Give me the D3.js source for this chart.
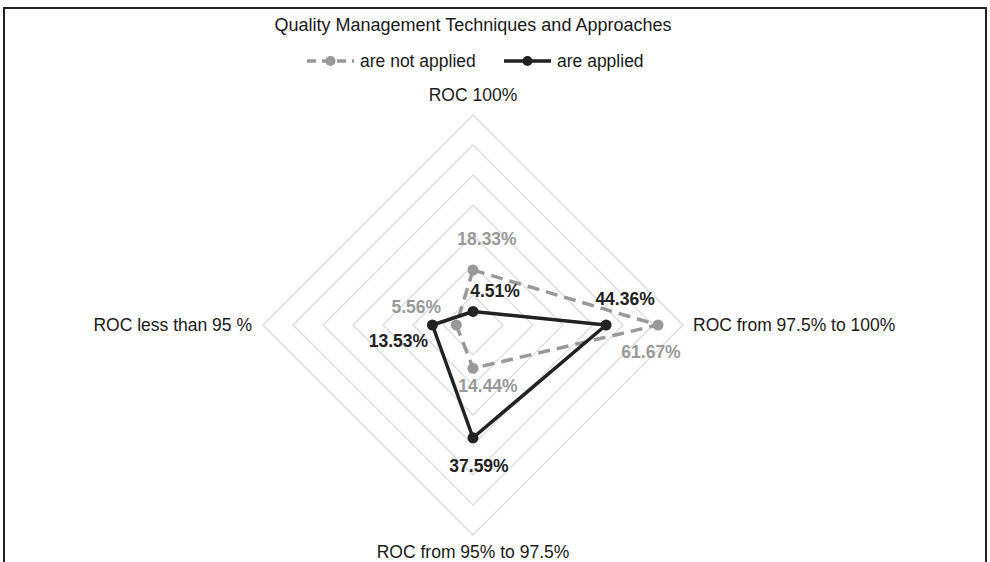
<!DOCTYPE html>
<html>
<head>
<meta charset="utf-8">
<script src="https://cdn.jsdelivr.net/npm/d3@7"></script>
<style>
  body { margin: 0; background: #fff; }
  svg { display: block; font-family: "Liberation Sans", Arial, sans-serif; }
</style>
</head>
<body>
<svg id="chart"></svg>
<script>
const categories = ['ROC 100%', 'ROC from 97.5% to 100%', 'ROC from 95% to 97.5%', 'ROC less than 95 %'];
const notApplied = [18.33, 61.67, 14.44, 5.56];
const applied = [4.51, 44.36, 37.59, 13.53];
const ringTicks = [10, 20, 30, 40, 50, 60, 70];
const seriesNames = ['are not applied', 'are applied'];

const width = 990;
const height = 562;
const cx = 473;
const cy = 325;
const grey = '#999999';
const dark = '#222222';

const svg = d3.select('#chart')
    .attr('width', width)
    .attr('height', height);

// frame
svg.append('path')
    .attr('d', 'M4,' + height + 'V8H986V' + height)
    .attr('fill', 'none')
    .attr('stroke', '#222')
    .attr('stroke-width', 2);

const rScale = d3.scaleLinear()
    .domain([0, 70])
    .range([0, 210]);

const angle = i => i * Math.PI / 2;   // top, right, bottom, left
const px = (v, i) => cx + rScale(v) * Math.sin(angle(i));
const py = (v, i) => cy - rScale(v) * Math.cos(angle(i));

// grid rings
const ring = d3.line();
svg.append('g')
    .selectAll('path')
    .data(ringTicks)
    .enter()
    .append('path')
    .attr('d', t => ring(categories.map((c, i) => [px(t, i), py(t, i)])) + 'Z')
    .attr('fill', 'none')
    .attr('stroke', '#d9d9d9')
    .attr('stroke-width', 1.2);

// category labels
const catPos = [
    {x: 0, y: -14, anchor: 'middle'},
    {x: 10, y: 6, anchor: 'start'},
    {x: 0, y: 23, anchor: 'middle'},
    {x: -11, y: 6, anchor: 'end'}
];
svg.append('g')
    .selectAll('text')
    .data(categories)
    .enter()
    .append('text')
    .attr('x', (c, i) => px(70, i) + catPos[i].x)
    .attr('y', (c, i) => py(70, i) + catPos[i].y)
    .attr('text-anchor', (c, i) => catPos[i].anchor)
    .attr('font-size', 17.5)
    .attr('fill', '#1a1a1a')
    .text(c => c);

const series = [
    {name: seriesNames[0], values: notApplied, color: grey, dash: '12,7',
     offsets: [[14, -25], [-7, 33], [15, 24], [-40, -12]]},
    {name: seriesNames[1], values: applied, color: dark, dash: null,
     offsets: [[22, -14], [19, -20], [6, 34], [-34, 22]]}
];

series.forEach(s => {
    const g = svg.append('g');
    const pts = s.values.map((v, i) => [px(v, i), py(v, i)]);
    g.append('path')
        .attr('d', d3.line()(pts) + 'Z')
        .attr('fill', 'none')
        .attr('stroke', s.color)
        .attr('stroke-width', 3.5)
        .attr('stroke-dasharray', s.dash)
        .attr('stroke-linejoin', 'round');
    g.selectAll('circle')
        .data(s.values)
        .enter()
        .append('circle')
        .attr('cx', (v, i) => px(v, i))
        .attr('cy', (v, i) => py(v, i))
        .attr('r', 5.5)
        .attr('fill', s.color);
    g.selectAll('text')
        .data(s.values)
        .enter()
        .append('text')
        .attr('x', (v, i) => px(v, i) + s.offsets[i][0])
        .attr('y', (v, i) => py(v, i) + s.offsets[i][1])
        .attr('text-anchor', 'middle')
        .attr('font-size', 17.5)
        .attr('font-weight', 'bold')
        .attr('fill', s.color)
        .text(v => v.toFixed(2) + '%');
});

// title
svg.append('text')
    .attr('x', 473)
    .attr('y', 31)
    .attr('text-anchor', 'middle')
    .attr('font-size', 18)
    .attr('fill', '#1a1a1a')
    .text('Quality Management Techniques and Approaches');

// legend
const legend = [
    {x: 307, color: grey, dash: '9,6'},
    {x: 504, color: dark, dash: null}
];
legend.forEach((l, k) => {
    const g = svg.append('g').attr('transform', 'translate(' + l.x + ',61)');
    g.append('line')
        .attr('x1', 0).attr('x2', 47)
        .attr('stroke', l.color)
        .attr('stroke-width', 3.5)
        .attr('stroke-dasharray', l.dash);
    g.append('circle')
        .attr('cx', 23.5)
        .attr('r', 5)
        .attr('fill', l.color);
    g.append('text')
        .attr('x', 53)
        .attr('y', 6)
        .attr('font-size', 17.5)
        .attr('fill', '#1a1a1a')
        .text(seriesNames[k]);
});
</script>
</body>
</html>
